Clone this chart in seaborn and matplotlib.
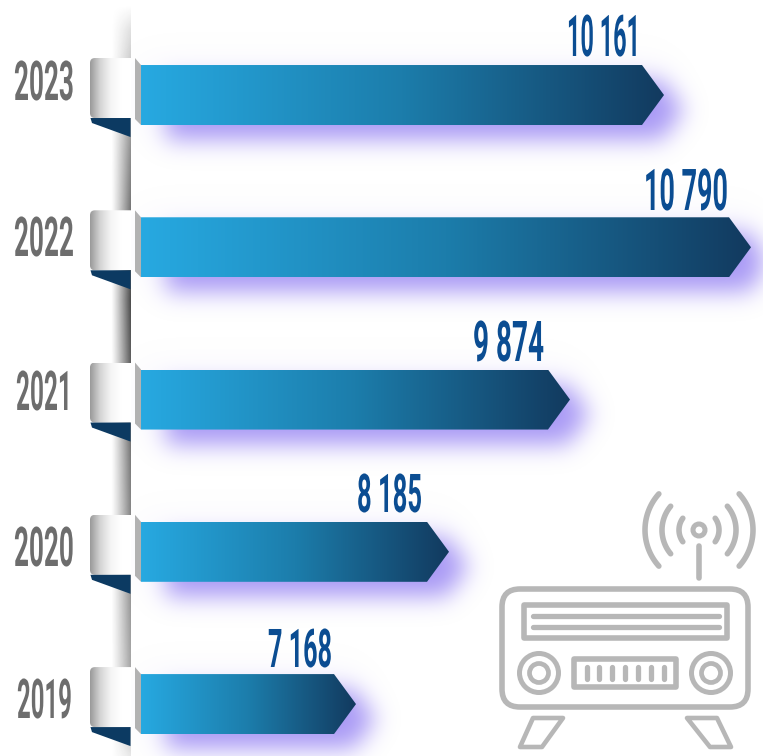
import numpy as np
import matplotlib
matplotlib.use("Agg")
import matplotlib.pyplot as plt
import matplotlib.patheffects as pe
from matplotlib.colors import LinearSegmentedColormap
from matplotlib.patches import FancyBboxPatch, Polygon, Circle
from matplotlib.transforms import Affine2D
import seaborn as sns

years = ["2023", "2022", "2021", "2020", "2019"]
values = [10161, 10790, 9874, 8185, 7168]
# the bars in the original are not to scale, so drawn lengths are read off separately
bar_lengths = [523, 610, 429, 308, 215]

W, H = 763, 756
ICON = "#b7b7b7"

# hand placed labels: left edge / width / baseline / size
year_left = [14, 14, 16, 14, 17]
year_width = [60, 60, 56, 60, 55]
year_base = [100, 256, 410, 566, 718]
value_right = [640, 728, 544, 422, 332]
value_width = [73, 84, 71, 65, 64]
value_base = [56, 210, 361, 512, 667]
value_size = [41.5, 41.5, 40.5, 38.5, 38.5]

sns.set_theme(style="white")
plt.rcParams["font.family"] = ["Roboto", "DejaVu Sans"]


class Squeeze(pe.AbstractPathEffect):
    # the original type is much more condensed than any installed font
    def __init__(self, sx, cx):
        super().__init__()
        self.sx, self.cx = sx, cx

    def draw_path(self, renderer, gc, tpath, affine, rgbFace=None):
        t = affine + Affine2D().translate(-self.cx, 0).scale(self.sx, 1).translate(self.cx, 0)
        renderer.draw_path(gc, tpath, t, rgbFace)


def blur(a, sigma):
    r = int(3 * sigma)
    k = np.exp(-0.5 * (np.arange(-r, r + 1) / sigma) ** 2)
    k /= k.sum()
    a = np.apply_along_axis(lambda m: np.convolve(m, k, mode="same"), 0, a)
    return np.apply_along_axis(lambda m: np.convolve(m, k, mode="same"), 1, a)


def fit_width(txt, anchor, width):
    # squeeze the drawn glyphs to the measured width, around the anchor
    natural = txt.get_window_extent(fig.canvas.get_renderer()).width
    txt.set_path_effects([Squeeze(width / natural, anchor)])


fig = plt.figure(figsize=(W / 100, H / 100), dpi=100)
bg = fig.add_axes([0, 0, 1, 1], zorder=0)
bg.set_xlim(0, W)
bg.set_ylim(H, 0)
bg.axis("off")

ax = fig.add_axes([141 / W, 0, (W - 141) / W, 1], zorder=1)
sns.barplot(x=bar_lengths, y=years, orient="h", width=0.394, color="#1b75a0", ax=ax)
ax.set_xlim(0, W - 141)
ax.set_ylim(4.341, -0.624)
ax.axis("off")
ax.patch.set_visible(False)

bar_cmap = LinearSegmentedColormap.from_list("bar", ["#27a9e1", "#1c7dab", "#123a5f"])
grad = np.linspace(0, 1, 256).reshape(1, -1)
to_px = ax.transData + bg.transData.inverted()
TIP = 22

# shadow layer
X, Y = np.meshgrid(np.arange(W) + 0.5, np.arange(H) + 0.5)
near = np.zeros((H, W))
far = np.zeros((H, W))
boxes = []
for patch, length in zip(ax.patches, bar_lengths):
    y0, y1 = patch.get_y(), patch.get_y() + patch.get_height()
    patch.set_visible(False)
    (_, top), (right, bottom) = to_px.transform([(0, y0), (length, y1)])
    boxes.append((top, bottom, right))
    mid, half = (top + bottom) / 2, (bottom - top) / 2
    edge = right - TIP + TIP * (1 - np.abs(Y - mid - 15) / half) + 20
    near += (X >= 166) & (X <= edge) & (np.abs(Y - mid - 15) <= half)
    far += (X >= 141) & (X <= right) & (np.abs(Y - mid) <= half)

    ymid = (y0 + y1) / 2
    shape = Polygon([(0, y0), (length - TIP, y0), (length, ymid), (length - TIP, y1), (0, y1)],
                    closed=True, transform=ax.transData, facecolor="none", edgecolor="none")
    ax.add_patch(shape)
    im = ax.imshow(grad, cmap=bar_cmap, extent=(0, length, y1, y0), aspect="auto", zorder=3)
    im.set_clip_path(shape)
ax.set_xlim(0, W - 141)
ax.set_ylim(4.341, -0.624)

alpha = np.clip(0.92 * blur(near, 11.5) + 0.08 * blur(far, 20), 0, 1)
rgba = np.zeros((H, W, 4))
rgba[..., :3] = np.array([166, 150, 245]) / 255
rgba[..., 3] = alpha
bg.imshow(rgba, extent=(0, W, H, 0), aspect="auto", zorder=1)

# timeline strip behind the ribbons
ys = np.arange(H)
env = np.interp(ys, [5, 30, 60, 150, 300, 450, 640, 700, 756],
                [0, 0.14, 0.22, 0.5, 0.8, 0.6, 0.42, 0.36, 0.1])
xs = np.linspace(0, 1, 40) ** 1.2
strip = np.zeros((H, 40, 4))
strip[..., :3] = 0.12
strip[..., 3] = env[:, None] * xs[None, :]
bg.imshow(strip, extent=(111, 130.5, H, 0), aspect="auto", zorder=2)

tab_cmap = LinearSegmentedColormap.from_list("tab", ["#999999", "#d4d4d4", "#f4f4f4", "#ffffff", "#ffffff"])
for (top, bottom, right) in boxes:
    # ribbon fold
    t = top - 7
    rect = FancyBboxPatch((90, t), 60, 60, boxstyle="round,pad=0,rounding_size=5",
                          facecolor="none", edgecolor="none", transform=bg.transData)
    bg.add_patch(rect)
    im = bg.imshow(grad, cmap=tab_cmap, extent=(90, 130.5, t + 60, t), aspect="auto", zorder=3)
    im.set_clip_path(rect)
    bg.add_patch(Polygon([(90.5, t + 60), (130.5, t + 60), (130.5, t + 79), (92, t + 65)],
                         closed=True, facecolor="#0c3a62", edgecolor="none", zorder=4))
    bg.add_patch(Polygon([(135, t), (141, top), (141, bottom), (135, t + 61)],
                         closed=True, facecolor="#b2b2b2", edgecolor="none", zorder=4))

for year, lx, w, by in zip(years, year_left, year_width, year_base):
    txt = bg.text(lx, by, year, ha="left", va="baseline", fontsize=39.5, fontweight="bold",
                  color="#6d6d6d", zorder=5)
    fit_width(txt, lx, w)

for value, rx, w, by, size in zip(values, value_right, value_width, value_base, value_size):
    txt = bg.text(rx, by, f"{value:,}".replace(",", " "), ha="right", va="baseline",
                  fontsize=size, fontweight="bold", color="#0b4d92", zorder=5)
    fit_width(txt, rx, w)

# radio icon
kw = dict(facecolor="none", edgecolor=ICON, zorder=6)
bg.add_patch(FancyBboxPatch((502, 589), 246, 118, boxstyle="round,pad=0,rounding_size=18", lw=4, **kw))
bg.add_patch(Polygon([(524, 605), (727, 605), (727, 638), (524, 638)], closed=True, lw=4, joinstyle="round", **kw))
bg.add_patch(Polygon([(574, 659), (676, 659), (676, 687), (574, 687)], closed=True, lw=4, joinstyle="round", **kw))
for ly in (616, 627):
    bg.plot([533, 719], [ly, ly], color=ICON, lw=3.8, solid_capstyle="round", zorder=6)
for tx in (587, 599, 612, 625, 638, 651, 664):
    bg.plot([tx, tx], [667, 679], color=ICON, lw=3.8, solid_capstyle="round", zorder=6)
for kx in (539, 711):
    bg.add_patch(Circle((kx, 673), 19.5, lw=3.6, **kw))
    bg.add_patch(Circle((kx, 673), 9.5, lw=3.4, **kw))
bg.add_patch(Polygon([(533, 718), (563, 718), (542, 747), (520, 747)], closed=True, lw=3.3, joinstyle="round", **kw))
bg.add_patch(Polygon([(687, 718), (717, 718), (731, 747), (710, 747)], closed=True, lw=3.3, joinstyle="round", **kw))
bg.plot([699, 699], [546, 578], color=ICON, lw=4, solid_capstyle="round", zorder=6)
bg.add_patch(Circle((699, 530), 6, lw=3.6, **kw))
for r, a in ((20, 36), (37, 40), (54, 42)):
    th = np.radians(np.linspace(-a, a, 40))
    for s in (-1, 1):
        bg.plot(699 + s * r * np.cos(th), 530 + r * np.sin(th), color=ICON, lw=4,
                solid_capstyle="round", zorder=6)

bg.set_xlim(0, W)
bg.set_ylim(H, 0)
fig.savefig("out.png", dpi=100)
